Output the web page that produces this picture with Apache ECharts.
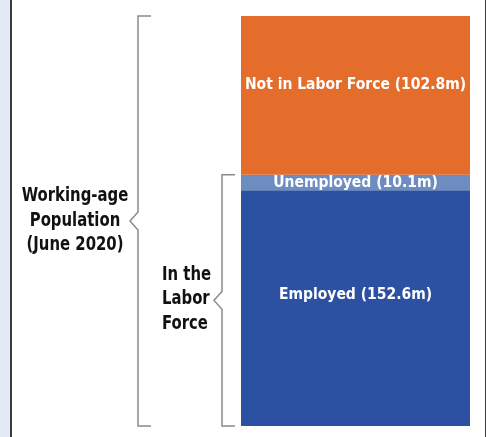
<!DOCTYPE html>
<html>
<head>
<meta charset="utf-8">
<script src="https://cdn.jsdelivr.net/npm/echarts@6/dist/echarts.min.js"></script>
<style>
  html, body { margin: 0; padding: 0; background: #ffffff; }
  #frame {
    position: absolute; left: 0; top: 0; width: 488px; height: 437px;
    background: #ffffff;
  }
  #strip { position: absolute; left: 0; top: 0; width: 10px; height: 437px; background: #e2eaf5; }
  #lineL { position: absolute; left: 10px; top: 0; width: 2px; height: 437px; background: #3c3c3c; }
  #lineR { position: absolute; left: 485px; top: 0; width: 1px; height: 437px; background: #3c3c3c; }
  #main { position: absolute; left: 0; top: 0; width: 488px; height: 437px; }
</style>
</head>
<body>
<div id="frame">
  <div id="strip"></div>
  <div id="lineL"></div>
  <div id="lineR"></div>
  <div id="main"></div>
</div>
<script>
// values in millions, stacked from the bottom
var categories = ["June 2020"];
var segmentNames = ["Employed", "Unemployed", "Not in Labor Force"];
var segmentValues = [152.6, 10.1, 102.8];
var segmentColors = ["#2c50a2", "#6d8cbf", "#e46d2c"];
var labelShift = [-13, 0, -10];

var FONT = "'Liberation Sans Narrow', 'DejaVu Sans Condensed', 'Liberation Sans', sans-serif";
var total = segmentValues.reduce(function (a, b) { return a + b; }, 0);

var chart = echarts.init(document.getElementById("main"));

var series = segmentNames.map(function (name, i) {
  return {
    name: name,
    type: "bar",
    stack: "pop",
    barWidth: "100%",
    data: [segmentValues[i]],
    itemStyle: { color: segmentColors[i] },
    label: {
      show: true,
      position: "inside",
      offset: [0, labelShift[i]],
      color: "#ffffff",
      fontFamily: FONT,
      fontWeight: "bold",
      fontSize: 15.5,
      formatter: function (p) {
        return p.seriesName + " (" + p.value + "m)";
      }
    }
  };
});

chart.setOption({
  animation: false,
  grid: { left: 241, right: 18, top: 16, bottom: 11 },
  xAxis: { type: "category", data: categories, show: false },
  yAxis: { type: "value", min: 0, max: total, show: false },
  series: series
});

// brackets on the left, placed from the axis scale
function bracket(x, notchX, fromVal, toVal) {
  var yTop = chart.convertToPixel({ yAxisIndex: 0 }, toVal);
  var yBot = chart.convertToPixel({ yAxisIndex: 0 }, fromVal);
  var yMid = (yTop + yBot) / 2;
  return {
    type: "polyline",
    shape: {
      points: [
        [x + 13, yTop], [x, yTop], [x, yMid - 9], [notchX, yMid], [x, yMid + 9],
        [x, yBot], [x + 13, yBot]
      ]
    },
    style: { stroke: "#8a8a8a", lineWidth: 1.5, fill: null }
  };
}

var laborTop = segmentValues[0] + segmentValues[1];
var yPopMid = (chart.convertToPixel({ yAxisIndex: 0 }, 0) + chart.convertToPixel({ yAxisIndex: 0 }, total)) / 2;
var yLabMid = (chart.convertToPixel({ yAxisIndex: 0 }, 0) + chart.convertToPixel({ yAxisIndex: 0 }, laborTop)) / 2;

chart.setOption({
  graphic: [
    bracket(138, 130, 0, total),
    bracket(222, 214, 0, laborTop),
    {
      type: "text",
      x: 75, y: yPopMid,
      scaleX: 0.87,
      style: {
        text: "Working-age\nPopulation\n(June 2020)",
        align: "center", verticalAlign: "middle",
        fontFamily: FONT, fontWeight: "bold", fontSize: 19, lineHeight: 24.5,
        fill: "#111111"
      }
    },
    {
      type: "text",
      x: 162, y: yLabMid - 1,
      scaleX: 0.87,
      style: {
        text: "In the\nLabor\nForce",
        align: "left", verticalAlign: "middle",
        fontFamily: FONT, fontWeight: "bold", fontSize: 19, lineHeight: 24.5,
        fill: "#111111"
      }
    }
  ]
});
</script>
</body>
</html>
